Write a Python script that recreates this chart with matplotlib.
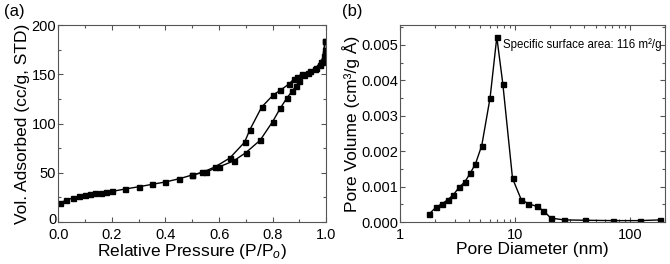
import matplotlib
matplotlib.use("Agg")
import matplotlib.pyplot as plt
from matplotlib.ticker import MultipleLocator, LogLocator, NullFormatter, FixedLocator
from matplotlib.transforms import ScaledTranslation

plt.rcParams['font.family'] = ['Liberation Sans', 'DejaVu Sans']
plt.rcParams['mathtext.fontset'] = 'custom'
plt.rcParams['mathtext.rm'] = 'Liberation Sans'
plt.rcParams['mathtext.it'] = 'Liberation Sans:italic'

# Panel (a): N2 isotherm
ads_p = [0.006, 0.028, 0.054, 0.077, 0.098, 0.118, 0.138, 0.158, 0.178, 0.199,
         0.249, 0.30, 0.351, 0.40, 0.452, 0.50, 0.552, 0.60, 0.654, 0.70,
         0.753, 0.80, 0.828, 0.853, 0.873, 0.886, 0.899, 0.915, 0.94, 0.959,
         0.975, 0.985, 0.995]
ads_v = [19.3, 22, 24.4, 26, 27, 28, 29, 29.8, 30.5, 31,
         33.5, 35.8, 38.3, 40.7, 44, 47.8, 51, 56, 62, 70.5,
         83, 102, 115.4, 126, 133, 138, 142.8, 149, 153.3, 155.7,
         159, 163, 184]
des_p = [0.995, 0.994, 0.99, 0.98, 0.96, 0.93, 0.909, 0.89, 0.881, 0.859,
         0.828, 0.803, 0.759, 0.715, 0.695, 0.64, 0.585, 0.538, 0.50]
des_v = [184, 175, 169, 162.5, 156.5, 151.5, 150.6, 147, 145.6, 139.8,
         133.7, 129.3, 116.8, 93.8, 81, 65, 56, 50.5, 47.8]

# Panel (b): pore size distribution
pore_d = [1.79, 2.06, 2.33, 2.60, 2.91, 3.26, 3.65, 4.06, 4.52, 5.13,
          6.06, 6.93, 7.81, 9.49, 11.3, 13.0, 15.4, 17.6, 20.4, 26.7,
          40.1, 70.2, 122, 182]
pore_v = [0.000226, 0.00042, 0.00052, 0.00063, 0.00077, 0.00098, 0.00113, 0.00137,
          0.00164, 0.00216, 0.00351, 0.00522, 0.00391, 0.00123, 0.00063, 0.00052,
          0.00044, 0.00032, 0.00011, 0.00006, 0.00005, 0.00004, 0.00004, 0.00006]

fig = plt.figure(figsize=(6.7, 2.64), dpi=100)
ax1 = fig.add_axes([0.087, 0.159, 0.4, 0.746])
ax2 = fig.add_axes([0.597, 0.159, 0.3955, 0.746])

frame_col = '#555555'
for ax in (ax1, ax2):
    for s in ax.spines.values():
        s.set_color(frame_col)
        s.set_linewidth(0.8)
    ax.tick_params(which='both', direction='in', top=True, right=True,
                   colors=frame_col, labelcolor='black', labelsize=10.5, width=0.8)
    ax.tick_params(which='major', length=3.5)
    ax.tick_params(which='minor', length=2)
    ax.tick_params(axis='x', which='major', pad=4)
    ax.tick_params(axis='y', which='major', pad=1.5)

style = dict(color='black', marker='s', markersize=3.6, linewidth=1.0)
ax1.plot(ads_p, ads_v, **style)
ax1.plot(des_p, des_v, **style)
ax1.set_xlim(0, 1.0)
ax1.set_ylim(0, 200)
ax1.xaxis.set_major_locator(MultipleLocator(0.2))
ax1.xaxis.set_minor_locator(MultipleLocator(0.1))
ax1.yaxis.set_major_locator(MultipleLocator(50))
ax1.yaxis.set_minor_locator(MultipleLocator(25))
ax1.xaxis.set_major_formatter(matplotlib.ticker.FormatStrFormatter('%.1f'))
ax1.set_xlabel(r'Relative Pressure (P/P$_{\mathit{o}}$)', fontsize=12.5, labelpad=0)
ax1.set_ylabel('Vol. Adsorbed (cc/g, STD)', fontsize=12.5, labelpad=1)

ax2.plot(pore_d, pore_v, **style)
ax2.set_xscale('log')
ax2.set_xlim(1, 200)
ax2.set_ylim(0, 0.00556)
ax2.xaxis.set_major_locator(FixedLocator([1, 10, 100]))
ax2.xaxis.set_major_formatter(matplotlib.ticker.FuncFormatter(lambda v, p: '%d' % v))
ax2.xaxis.set_minor_locator(LogLocator(base=10, subs=range(2, 10)))
ax2.xaxis.set_minor_formatter(NullFormatter())
ax2.yaxis.set_major_locator(MultipleLocator(0.001))
ax2.yaxis.set_minor_locator(MultipleLocator(0.0005))
ax2.yaxis.set_major_formatter(matplotlib.ticker.FormatStrFormatter('%.3f'))
ax2.set_xlabel('Pore Diameter (nm)', fontsize=12.5, labelpad=0)
ax2.set_ylabel('Pore Volume (cm³/g Å)', fontsize=12.5, labelpad=1)
ax2.text(0.389, 0.9, 'Specific surface area: 116 m²/g', transform=ax2.transAxes,
         fontsize=8.3, ha='left', va='center')

fig.text(0.006, 0.955, '(a)', fontsize=12, ha='left', va='center')
fig.text(0.511, 0.955, '(b)', fontsize=12, ha='left', va='center')

# nudge the bottom "0" y tick label of panel (a) up slightly so it clears "0.0"
fig.canvas.draw()
for tick in ax1.yaxis.get_major_ticks():
    if abs(tick.get_loc()) < 1e-9:
        lab = tick.label1
        lab.set_transform(lab.get_transform() + ScaledTranslation(0, 2.5 / 72, fig.dpi_scale_trans))

fig.savefig('out.png', dpi=100)
